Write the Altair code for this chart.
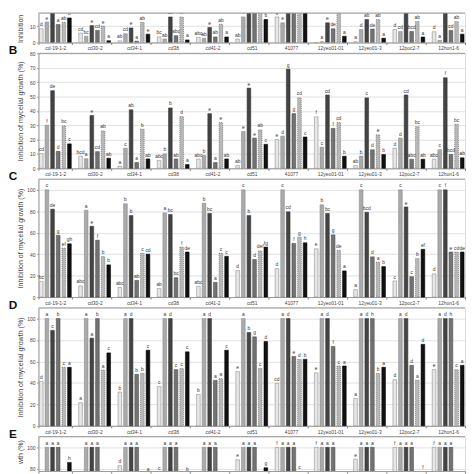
import altair as alt
import pandas as pd

strains = ["cd-19-1-2", "cd30-2", "cd34-1", "cd38", "cd41-2", "cd51",
           "41077", "12yeo01-01", "12yeo01-3", "12poc2-7", "12hon1-6"]
series = [1, 2, 3, 4, 5, 6]

# Panel A (only the lower part is visible in the crop)
a_values = [[8.4, 12.5, 25, 11, 12.3, 15], [5.7, 3.8, 10.3, 7.4, 10, 1.1],
            [1, 5.4, 8.9, 0.8, 12.3, 5.1], [3.4, 2.1, 15.6, 4.1, 15.6, 1.6],
            [3.1, 2.6, 9.2, 3.4, 11.1, 3.4], [2.1, 15.6, 25, 25, 25, 14],
            [15.6, 12, 25, 25, 25, 25], [0, 0.5, 12, 8.4, 25, 3.8],
            [0.5, 7.9, 14, 8.2, 14, 2.6], [7.9, 6.7, 25, 6.7, 12.8, 3.3],
            [6.6, 1.3, 25, 7.4, 12.8, 5.1]]
a_letters = [["d", "e", "", "a", "ab", "b"], ["cd", "bc", "e", "cd", "e", "a"],
             ["ab", "cd", "e", "a", "ab", "e"], ["bc", "ab", "ab", "abc", "b", "a"],
             ["abc", "ab", "e", "ab", "ab", "a"], ["ab", "f", "", "", "", "b"],
             ["g", "e", "", "", "", ""], ["", "a", "e", "de", "", "a"],
             ["a", "d", "ab", "de", "ab", "a"], ["d", "cd", "", "bcd", "ab", "a"],
             ["d", "a", "", "cd", "ab", "a"]]

b_values = [[10.2, 30, 54, 11.8, 29.5, 17], [8.4, 6.7, 36.7, 11.6, 26, 7],
            [1.5, 14, 40.7, 4, 27.3, 6.5], [5.5, 10, 42, 6.5, 36, 2.6],
            [6.5, 9, 38, 4, 31.8, 6.5], [2, 25.6, 55.8, 21, 26.7, 16.7],
            [20, 22.4, 69, 38, 49, 21.8], [35.8, 14.7, 51, 27.8, 31.8, 8.4],
            [2, 8.5, 49, 12.9, 23.3, 9.6], [14, 21, 51, 6.3, 29, 6.3],
            [6.3, 12.9, 63, 9.6, 30.7, 7.3]]
b_letters = [["cd", "f", "de", "d", "bc", "c"], ["bcd", "a", "e", "cd", "ab", "ab"],
             ["a", "c", "ab", "a", "b", "ab"], ["abc", "b", "b", "ab", "d", "a"],
             ["abc", "b", "e", "a", "e", "ab"], ["ab", "e", "e", "e", "ab", "c"],
             ["e", "d", "g", "g", "cd", "c"], ["f", "c", "cd", "f", "cd", "b"],
             ["ab", "b", "c", "d", "e", "b"], ["d", "d", "cd", "abc", "bc", "ab"],
             ["abc", "c", "f", "bcd", "bc", "ab"]]

c_values = [[14.6, 100, 82, 57.6, 45.7, 49.7], [10.4, 81, 66, 53, 37.8, 30],
            [9, 87, 76, 15.5, 41, 40], [8, 78.5, 77, 18, 46.6, 42],
            [10, 87.5, 78, 13.7, 41, 38], [24.7, 100, 76, 35, 43, 46.6],
            [26.5, 100, 79.5, 50, 56, 50.6], [45, 86, 78, 58, 43.6, 24.4],
            [7, 100, 79, 37.5, 32.6, 28.4], [15, 100, 84, 19, 36, 44.5],
            [21.6, 100, 100, 42, 42, 42]]
c_letters = [["bc", "c", "de", "g", "ef", "gh"], ["abc", "a", "e", "f", "b", "b"],
             ["abc", "b", "b", "ab", "c", "cd"], ["ab", "a", "bc", "bc", "f", "de"],
             ["abc", "b", "bc", "a", "c", "c"], ["d", "c", "b", "d", "def", "fg"],
             ["d", "c", "cd", "f", "g", "h"], ["e", "b", "bc", "g", "de", "a"],
             ["a", "c", "bcd", "d", "a", "b"], ["c", "c", "e", "c", "b", "ef"],
             ["d", "c", "f", "e", "cd", "de"]]

d_values = [[41.5, 100, 89, 100, 54.6, 54.6], [21.6, 100, 81.7, 100, 52, 68],
            [31.4, 100, 100, 48, 49, 70.5], [36.6, 100, 100, 52.4, 53.4, 69],
            [29.3, 100, 100, 42.4, 44, 70.5], [50.6, 100, 87, 83, 53.6, 78.6],
            [39.6, 100, 100, 64.6, 62, 62], [49.4, 100, 100, 74, 55.8, 55.8],
            [25.6, 100, 100, 100, 48.8, 54.6], [43, 100, 100, 56.4, 42.7, 76],
            [52.4, 100, 100, 100, 52.4, 56.4]]
d_letters = [["d", "a", "c", "b", "c", "a"], ["a", "a", "a", "b", "a", "c"],
             ["b", "a", "d", "b", "b", "c"], ["c", "a", "d", "c", "c", "c"],
             ["b", "a", "d", "a", "a", "c"], ["e", "a", "b", "g", "c", "d"],
             ["cd", "a", "d", "e", "d", "b"], ["e", "a", "d", "f", "c", "a"],
             ["a", "a", "d", "h", "b", "a"], ["d", "a", "d", "d", "a", "d"],
             ["e", "a", "d", "h", "c", "a"]]

# Panel E (only the upper part is visible in the crop)
e_values = [[70, 100, 100, 100, 60, 86], [60, 100, 100, 100, 60, 60],
            [83, 100, 100, 100, 60, 75.5], [77, 100, 100, 100, 60, 75.5],
            [60, 100, 100, 100, 60, 60], [88.5, 100, 100, 100, 60, 81],
            [100, 100, 100, 100, 77.5, 60], [100, 100, 100, 100, 60, 60],
            [89, 100, 100, 100, 60, 60], [100, 100, 100, 100, 60, 77.5],
            [100, 100, 100, 100, 60, 60]]
e_letters = [["", "a", "a", "a", "", "h"], ["", "a", "a", "a", "", ""],
             ["d", "a", "a", "a", "", "a"], ["c", "a", "a", "a", "", "b"],
             ["", "a", "a", "a", "", ""], ["e", "a", "a", "a", "", "g"],
             ["f", "a", "a", "a", "c", ""], ["f", "a", "a", "a", "", ""],
             ["e", "a", "a", "a", "", ""], ["f", "a", "a", "a", "", "f"],
             ["f", "a", "a", "a", "", ""]]

fills = ["#e6e6e6", "#aaaaaa", "#444444", "#737373", "#b8b8b8", "#111111"]
strokes = ["#8a8a8a", "#8a8a8a", "#333333", "#4a4a4a", "#555555", "#000000"]
dashes = [[1, 0], [1, 0], [1, 0], [1, 0], [1, 1], [1, 0]]

rows = []
for pname, vals, lets in [("A", a_values, a_letters), ("B", b_values, b_letters),
                          ("C", c_values, c_letters), ("D", d_values, d_letters),
                          ("E", e_values, e_letters)]:
    for i, s in enumerate(strains):
        for j, sr in enumerate(series):
            rows.append({"panel": pname, "strain": s, "series": sr,
                         "value": vals[i][j], "letter": lets[i][j]})
df = pd.DataFrame(rows)

W = 434
FONT = "Liberation Sans"
TITLE = "Inhibition of mycelial growth (%)"


def make_panel(p, h, domain, ticks, ytitle, title_y, title_align,
               show_x=True, tag=None, clip=False):
    d = df[df.panel == p]
    yaxis = alt.Axis(values=ticks, title=ytitle, titleX=-18, titleY=title_y,
                     titleAngle=270, titleAlign=title_align, titleBaseline="middle",
                     titleFontSize=7.2, titleFontWeight="normal", titleColor="#444",
                     titleFont=FONT, grid=True, gridColor="#d4d4d4", gridWidth=0.7,
                     domainColor="#9a9a9a", tickColor="#9a9a9a", tickSize=2,
                     labelFontSize=5, labelColor="#444", labelPadding=1.5, labelFont=FONT)
    xaxis = alt.Axis(title=None, labelAngle=0, labels=show_x, labelFontSize=5,
                     labelColor="#444", labelPadding=1.5, labelFont=FONT,
                     tickBand="extent", ticks=True, tickSize=2, tickColor="#777",
                     domainColor="#9a9a9a", grid=False)
    base = alt.Chart(d).encode(
        x=alt.X("strain:N", sort=strains,
                scale=alt.Scale(paddingInner=0.14, paddingOuter=0), axis=xaxis),
        xOffset=alt.XOffset("series:N",
                            scale=alt.Scale(paddingInner=0.35, paddingOuter=0.175)),
        y=alt.Y("value:Q", scale=alt.Scale(domain=domain, nice=False, zero=False),
                axis=yaxis),
    )
    bars = base.mark_bar(clip=clip, strokeWidth=0.6).encode(
        fill=alt.Fill("series:N", scale=alt.Scale(domain=series, range=fills), legend=None),
        stroke=alt.Stroke("series:N", scale=alt.Scale(domain=series, range=strokes), legend=None),
        strokeDash=alt.StrokeDash("series:N", scale=alt.Scale(domain=series, range=dashes),
                                  legend=None),
    )
    texts = base.mark_text(clip=clip, fontSize=5, baseline="bottom", dy=-1.5,
                           fill="#333333", font=FONT).encode(text="letter:N")
    top = alt.Chart(pd.DataFrame({"k": [0]})).mark_rule(
        color="#9a9a9a", strokeWidth=1).encode(
        x=alt.value(0), x2=alt.value(W), y=alt.value(0))
    layers = [bars, texts, top]
    if tag:
        lab = alt.Chart(pd.DataFrame({"t": [tag]})).mark_text(
            fontSize=12, fontWeight="bold", font=FONT, align="center",
            baseline="middle", fill="#111111").encode(
            x=alt.value(-26), y=alt.value(-3), text="t:N")
        layers.append(lab)
    return alt.layer(*layers).properties(width=W, height=h)


pA = make_panel("A", 30, [0, 18], [0, 10], "Inhibition", 30, "left", clip=True)
pB = make_panel("B", 117, [0, 80], list(range(0, 81, 10)), TITLE, 58.5, "center", tag="B")
pC = make_panel("C", 120, [0, 110], list(range(0, 101, 20)), TITLE, 60, "center", tag="C")
pD = make_panel("D", 120, [0, 110], list(range(0, 101, 20)), TITLE, 60, "center", tag="D")
pE = make_panel("E", 35, [78, 110], [80, 100], "wth (%)", 3, "right",
                show_x=False, tag="E", clip=True)

chart = alt.vconcat(pA, pB, pC, pD, pE, spacing=11, bounds="flush", padding=0).resolve_scale(
    x="independent", y="independent", fill="shared", stroke="shared", strokeDash="shared"
).configure_view(stroke=None).configure(font=FONT, background="white")

chart.save("out.html", embed_options={"renderer": "svg", "actions": False})
